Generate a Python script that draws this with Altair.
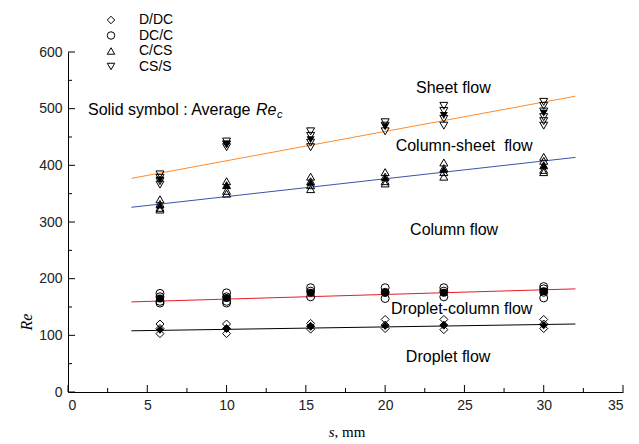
import altair as alt
import pandas as pd

# ---------------- data ----------------
S_VALUES = [5.8, 10, 15.3, 20, 23.7, 30]
GROUPS = ["D/DC", "DC/C", "C/CS", "CS/S"]
SHAPES = ["diamond", "circle", "triangle-up", "triangle-down"]

DDC_OPEN = [[120, 112, 103], [120, 112, 103], [121, 116, 111], [128, 118, 112], [128, 118, 110], [128, 120, 112]]
DDC_AVG = [110, 112, 116, 117, 118, 118]
DCC_OPEN = [[174, 168, 160, 157], [175, 168, 160, 157], [184, 178, 168], [184, 176, 165], [184, 178, 168], [186, 182, 176, 166]]
DCC_AVG = [165, 166, 175, 175, 175, 178]
CCS_OPEN = [[340, 332, 325, 322], [372, 365, 355, 350], [380, 372, 365, 358], [388, 380, 372, 368], [405, 395, 388, 380], [415, 408, 400, 392, 388]]
CCS_AVG = [330, 365, 370, 378, 393, 400]
CSS_OPEN = [[384, 378, 372, 366], [442, 437, 432], [460, 452, 440, 432], [476, 470, 460], [505, 496, 482, 470], [512, 505, 495, 485, 478, 470]]
CSS_AVG = [374, 437, 445, 468, 488, 492]

FIT_S = [4, 32]
FIT_NAMES = ["sheet", "colsheet", "dropcol", "drop"]
FIT_RE = [[377, 522], [326, 414], [159, 182], [108, 120]]
FIT_COLORS = ["#FF8A2A", "#3A55A8", "#E41E26", "#000000"]

LABELS = ["Sheet flow", "Column-sheet\u00a0 flow", "Column flow", "Droplet-column flow", "Droplet flow"]
LABEL_S = [24.3, 24.98, 24.35, 24.83, 23.97]
LABEL_RE = [537, 434, 286, 146, 62]

X_TICKS = [0, 5, 10, 15, 20, 25, 30, 35]
X_MINOR = [2.5, 7.5, 12.5, 17.5, 22.5, 27.5, 32.5]
Y_TICKS = [0, 100, 200, 300, 400, 500, 600]
Y_MINOR = [50, 150, 250, 350, 450, 550]

# ---------------- tables ----------------
rows = []
for g, opens, avgs in zip(GROUPS, [DDC_OPEN, DCC_OPEN, CCS_OPEN, CSS_OPEN], [DDC_AVG, DCC_AVG, CCS_AVG, CSS_AVG]):
    for s, vals, a in zip(S_VALUES, opens, avgs):
        for v in vals:
            rows.append({"s": s, "Re": v, "group": g, "kind": "open"})
        rows.append({"s": s, "Re": a, "group": g, "kind": "avg"})
pts = pd.DataFrame(rows)

fit_rows = []
for n, re in zip(FIT_NAMES, FIT_RE):
    for s, r in zip(FIT_S, re):
        fit_rows.append({"s": s, "Re": r, "fit": n})
fits = pd.DataFrame(fit_rows)

labels = pd.DataFrame({"s": LABEL_S, "Re": LABEL_RE, "text": LABELS})
xt = pd.DataFrame({"t": X_TICKS + X_MINOR, "len": [7] * len(X_TICKS) + [4] * len(X_MINOR)})
yt = pd.DataFrame({"t": Y_TICKS + Y_MINOR, "len": [7] * len(Y_TICKS) + [4] * len(Y_MINOR)})

W, H = 555, 340
FONT = "Liberation Sans"

x_axis = alt.Axis(values=X_TICKS, ticks=False, grid=False, title=None, format="d",
                  labelFontSize=14, labelFont=FONT, labelColor="#222", labelPadding=6,
                  domainColor="black", domainWidth=1)
y_axis = alt.Axis(values=Y_TICKS, ticks=False, grid=False, title=None, format="d",
                  labelFontSize=14, labelFont=FONT, labelColor="#222", labelPadding=6,
                  domainColor="black", domainWidth=1)
xs = alt.Scale(domain=[0, 35], nice=False, zero=False)
ys = alt.Scale(domain=[0, 600], nice=False, zero=False)


def X(field="s"):
    return alt.X(f"{field}:Q", scale=xs, axis=x_axis)


def Y(field="Re"):
    return alt.Y(f"{field}:Q", scale=ys, axis=y_axis)


shape_scale = alt.Scale(domain=GROUPS, range=SHAPES)

fit_layer = alt.Chart(fits).mark_line(strokeWidth=1).encode(
    x=X(), y=Y(),
    color=alt.Color("fit:N", scale=alt.Scale(domain=FIT_NAMES, range=FIT_COLORS), legend=None),
    detail="fit:N",
)

open_layer = alt.Chart(pts).transform_filter(alt.datum.kind == "open").mark_point(
    filled=False, color="black", strokeWidth=1, size=64, opacity=1
).encode(
    x=X(), y=Y(),
    shape=alt.Shape("group:N", scale=shape_scale,
                    legend=alt.Legend(title=None, orient="none", legendX=36, legendY=-39,
                                      labelFontSize=14, labelFont=FONT, labelColor="black",
                                      symbolSize=56, symbolStrokeColor="black", symbolFillColor="white",
                                      symbolStrokeWidth=1, rowPadding=1.5, labelOffset=21, padding=0)),
)

avg_layer = alt.Chart(pts).transform_filter(alt.datum.kind == "avg").mark_point(
    filled=True, color="black", size=64, opacity=1
).encode(
    x=X(), y=Y(),
    shape=alt.Shape("group:N", scale=shape_scale, legend=None),
)

label_layer = alt.Chart(labels).mark_text(font=FONT, fontSize=16, color="black", align="center", baseline="middle").encode(
    x=X(), y=Y(), text="text:N"
)

NOTE_FS = 16
note = pd.DataFrame({"s": [1.26], "Re": [497]})
note_main = alt.Chart(note).mark_text(font=FONT, fontSize=NOTE_FS, align="left", baseline="middle", color="black").encode(
    x=X(), y=Y(), text=alt.value("Solid symbol : Average ")
)
note_re = alt.Chart(note).mark_text(font=FONT, fontSize=NOTE_FS, fontStyle="italic", align="left", baseline="middle", dx=168, color="black").encode(
    x=X(), y=Y(), text=alt.value("Re")
)
note_c = alt.Chart(note).mark_text(font=FONT, fontSize=11, fontStyle="italic", align="left", baseline="middle", dx=189, dy=5, color="black").encode(
    x=X(), y=Y(), text=alt.value("c")
)

xtick_major = alt.Chart(xt).transform_filter(alt.datum.len == 7).mark_rule(color="black").encode(
    x=X("t"), y=alt.value(H), y2=alt.value(H - 7))
xtick_minor = alt.Chart(xt).transform_filter(alt.datum.len == 4).mark_rule(color="black").encode(
    x=X("t"), y=alt.value(H), y2=alt.value(H - 4))
ytick_major = alt.Chart(yt).transform_filter(alt.datum.len == 7).mark_rule(color="black").encode(
    y=Y("t"), x=alt.value(0), x2=alt.value(7))
ytick_minor = alt.Chart(yt).transform_filter(alt.datum.len == 4).mark_rule(color="black").encode(
    y=Y("t"), x=alt.value(0), x2=alt.value(4))

one = pd.DataFrame({"a": [0]})
xtitle_s = alt.Chart(one).mark_text(font="Liberation Serif", fontSize=15, fontStyle="italic", align="right", baseline="middle").encode(
    x=alt.value(266.5), y=alt.value(380), text=alt.value("s"))
xtitle_mm = alt.Chart(one).mark_text(font="Liberation Serif", fontSize=15, align="left", baseline="middle").encode(
    x=alt.value(266.5), y=alt.value(380), text=alt.value(", mm"))
ytitle = alt.Chart(one).mark_text(font="Liberation Serif", fontSize=16, fontStyle="italic", align="center", baseline="middle", angle=270).encode(
    x=alt.value(-41), y=alt.value(270), text=alt.value("Re"))

chart = alt.layer(
    fit_layer, open_layer, avg_layer, label_layer, note_main, note_re, note_c,
    xtick_major, xtick_minor, ytick_major, ytick_minor, xtitle_s, xtitle_mm, ytitle
).resolve_scale(shape="independent").properties(
    width=W, height=H,
    autosize=alt.AutoSizeParams(type="none"),
    padding={"left": 68, "top": 52, "right": 639 - 68 - W, "bottom": 444 - 52 - H},
    background="white",
).configure_view(stroke=None)

chart.save("out.html", embed_options={"renderer": "svg", "actions": False})
